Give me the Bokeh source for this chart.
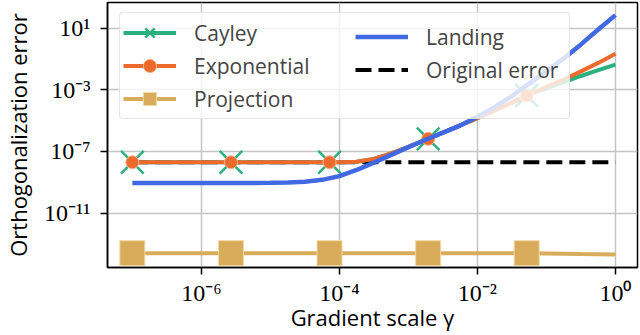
import numpy as np
from bokeh.plotting import figure
from bokeh.models import FixedTicker, Legend, LegendItem, Range1d
from bokeh.embed import file_html
from bokeh.resources import INLINE

# ---- data (log10 values) ----
log_gamma = [-7.0, -6.75, -6.5, -6.25, -6.0, -5.75, -5.5, -5.25, -5.0, -4.75,
             -4.5, -4.25, -4.0, -3.75, -3.5, -3.25, -3.0, -2.75, -2.5, -2.25,
             -2.0, -1.75, -1.5, -1.25, -1.0, -0.75, -0.5, -0.25, 0.0]

cayley_log = [-7.7, -7.7, -7.7, -7.7, -7.7, -7.7, -7.7, -7.7, -7.7, -7.7,
              -7.7, -7.7, -7.7, -7.66, -7.48, -7.12, -6.7, -6.24, -5.78, -5.3,
              -4.83, -4.33, -3.83, -3.3, -2.9, -2.5, -2.1, -1.72, -1.36]

exponential_log = [-7.7, -7.7, -7.7, -7.7, -7.7, -7.7, -7.7, -7.7, -7.7, -7.7,
                   -7.7, -7.7, -7.7, -7.66, -7.48, -7.12, -6.7, -6.24, -5.78, -5.3,
                   -4.83, -4.33, -3.83, -3.3, -2.8, -2.33, -1.8, -1.25, -0.66]

projection_log = [-13.6, -13.6, -13.6, -13.6, -13.6, -13.6, -13.6, -13.6, -13.6, -13.6,
                  -13.6, -13.6, -13.6, -13.6, -13.6, -13.6, -13.6, -13.6, -13.6, -13.6,
                  -13.6, -13.6, -13.6, -13.6, -13.62, -13.64, -13.66, -13.67, -13.68]

landing_log = [-9.05, -9.05, -9.05, -9.05, -9.05, -9.05, -9.05, -9.04, -9.03, -9.01,
               -8.96, -8.84, -8.6, -8.2, -7.72, -7.22, -6.72, -6.24, -5.78, -5.32,
               -4.75, -4.12, -3.4, -2.6, -1.78, -0.96, -0.05, 0.92, 1.85]

marker_log_gamma = [-7.0, -5.571, -4.143, -2.714, -1.286]
cayley_marker_log = [-7.7, -7.7, -7.7, -6.18, -3.37]
exponential_marker_log = [-7.7, -7.7, -7.7, -6.18, -3.37]
projection_marker_log = [-13.6, -13.6, -13.6, -13.6, -13.6]

original_error_log = -7.7
original_error_span = [-7.0, 0.0]

x_tick_exps = [-6, -4, -2, 0]
x_tick_labels = ["10⁻⁶", "10⁻⁴", "10⁻²", "10⁰"]
y_tick_exps = [1, -3, -7, -11]
y_tick_labels = ["10¹", "10⁻³", "10⁻⁷", "10⁻¹¹"]

# ---- helpers ----
def p10(a):
    return [10.0 ** v for v in a]

GREEN = "#2bb07f"
ORANGE = "#ec6a2c"
GOLD = "#d8ac5a"
BLUE = "#4169e1"
SANS = "Open Sans"
SERIF = "Liberation Serif"

FRAME_H = 265

p = figure(
    x_axis_type="log", y_axis_type="log",
    x_range=Range1d(10 ** -7.36, 10 ** 0.319),
    y_range=Range1d(10 ** -14.53, 10 ** 2.67),
    frame_width=530, frame_height=FRAME_H,
    min_border_left=106, min_border_right=4, min_border_top=2, min_border_bottom=66,
    output_backend="svg", toolbar_location=None,
)

# original error (dashed), under the others
r_orig = p.line(p10(original_error_span), p10([original_error_log, original_error_log]),
                line_color="black", line_width=4, line_dash="16 7")

gx = p10(log_gamma)
mx = p10(marker_log_gamma)

r_cay_l = p.line(gx, p10(cayley_log), line_color=GREEN, line_width=4)
r_cay_m = p.scatter(mx, p10(cayley_marker_log), marker="x", size=32,
                    line_color=GREEN, line_width=2.5)

r_exp_l = p.line(gx, p10(exponential_log), line_color=ORANGE, line_width=4)
r_exp_m = p.scatter(mx, p10(exponential_marker_log), marker="circle", size=13,
                    fill_color=ORANGE, line_color="#f6b38f", line_width=1)

r_proj_l = p.line(gx, p10(projection_log), line_color=GOLD, line_width=4)
r_proj_m = p.scatter(mx, p10(projection_marker_log), marker="square", size=25,
                     fill_color=GOLD, line_color="#f1d9a8", line_width=1)

r_land = p.line(gx, p10(landing_log), line_color=BLUE, line_width=4.5)

# ---- axes ----
p.xaxis.ticker = FixedTicker(ticks=[10.0 ** e for e in x_tick_exps], minor_ticks=[])
p.yaxis.ticker = FixedTicker(ticks=[10.0 ** e for e in y_tick_exps], minor_ticks=[])
p.xaxis.major_label_overrides = {10.0 ** e: s for e, s in zip(x_tick_exps, x_tick_labels)}
p.yaxis.major_label_overrides = {10.0 ** e: s for e, s in zip(y_tick_exps, y_tick_labels)}

p.xaxis.axis_label = "Gradient scale γ"
p.yaxis.axis_label = "Orthogonalization error"
for ax in (p.xaxis[0], p.yaxis[0]):
    ax.axis_label_text_font = SANS
    ax.axis_label_text_font_size = "22px"
    ax.axis_label_text_font_style = "normal"
    ax.axis_label_text_color = "black"
    ax.major_label_text_font = SERIF
    ax.major_label_text_font_size = "24px"
    ax.major_label_text_color = "black"
    ax.axis_line_color = "black"
    ax.axis_line_width = 1.5
    ax.major_tick_line_color = "black"
    ax.major_tick_line_width = 1.5
    ax.major_tick_out = 7
    ax.major_tick_in = 0
    ax.minor_tick_line_color = None
p.xaxis.major_label_standoff = 5
p.xaxis.axis_label_standoff = -7
p.yaxis.major_label_standoff = 10
p.yaxis.axis_label_standoff = 8

p.grid.grid_line_color = "#c4c4c4"
p.grid.grid_line_width = 1.5
p.outline_line_color = "black"
p.outline_line_width = 1.5
p.background_fill_color = "white"
p.border_fill_color = "white"

GH, SP, PAD = 33, 0, 3
common = dict(
    label_text_font=SANS, label_text_font_size="21px",
    label_standoff=18, glyph_width=53, glyph_height=GH, spacing=SP, padding=PAD,
    margin=0,
)
LEG_TOP = 12  # gap between frame top and legend box top
# legend box with the first column (box spans both columns)
leg1_h = 3 * GH + 2 * SP + 2 * PAD
legend1 = Legend(
    items=[
        LegendItem(label="Cayley", renderers=[r_cay_l, r_cay_m]),
        LegendItem(label="Exponential", renderers=[r_exp_l, r_exp_m]),
        LegendItem(label="Projection", renderers=[r_proj_l, r_proj_m]),
    ],
    location=(12, FRAME_H - LEG_TOP - leg1_h), label_width=372,
    background_fill_color="white", background_fill_alpha=0.8,
    border_line_color="#cccccc", border_line_width=1, border_radius=4,
    **common,
)
# second column, drawn inside the same box
leg2_h = 2 * GH + SP + 2 * PAD
legend2 = Legend(
    items=[
        LegendItem(label="Landing", renderers=[r_land]),
        LegendItem(label="Original error", renderers=[r_orig]),
    ],
    location=(248, FRAME_H - LEG_TOP - leg2_h),
    background_fill_alpha=0, border_line_color=None,
    **common,
)
p.add_layout(legend1, "center")
p.add_layout(legend2, "center")

open("out.html", "w").write(file_html(p, INLINE))
